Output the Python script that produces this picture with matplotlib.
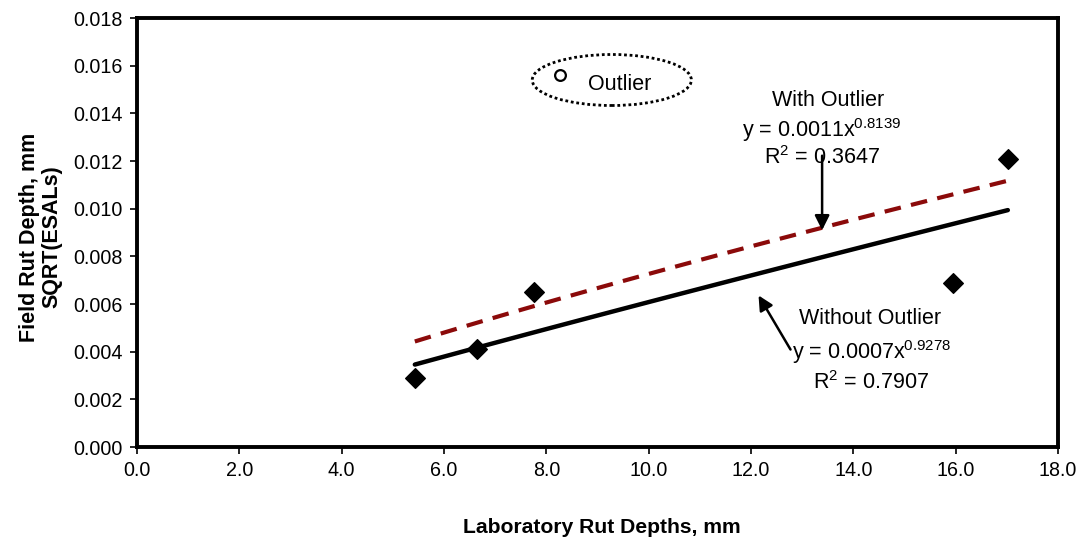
# Field vs laboratory rut depth with power trendlines (with / without outlier)
import numpy as np
import matplotlib.pyplot as plt
from matplotlib.patches import Ellipse

plt.rcParams["font.family"] = ["Liberation Sans", "DejaVu Sans"]
plt.rcParams["mathtext.fontset"] = "custom"
plt.rcParams["mathtext.rm"] = "Liberation Sans"
plt.rcParams["mathtext.it"] = "Liberation Sans"

# Data
lab_rut = [5.43, 6.64, 7.76, 15.95, 17.02]
field_rut = [0.0029, 0.0041, 0.0065, 0.0069, 0.0121]
outlier_x = [8.27]
outlier_y = [0.0156]

x_ticks = np.arange(0, 18.1, 2.0)
y_ticks = np.arange(0, 0.0181, 0.002)


# Power trendline y = a * x^b, fitted in log space like a spreadsheet does
def power_fit(x, y):
    b, log_a = np.polyfit(np.log(x), np.log(y), 1)
    return np.exp(log_a), b


a_wo, b_wo = power_fit(lab_rut, field_rut)
a_w, b_w = power_fit(lab_rut + outlier_x, field_rut + outlier_y)
x_fit = np.linspace(min(lab_rut), max(lab_rut), 50)

fig = plt.figure(figsize=(10.83, 5.4), dpi=100)
ax = fig.add_axes([0.1265, 0.1722, 0.8504, 0.7944])

ax.plot(x_fit, a_w * x_fit**b_w, color="#8b0a0a", lw=3, dashes=(4, 2.5))
ax.plot(x_fit, a_wo * x_fit**b_wo, color="black", lw=3.2, solid_capstyle="round")
ax.scatter(lab_rut, field_rut, marker="D", s=100, color="black", zorder=3)
ax.scatter(outlier_x, outlier_y, marker="o", s=60, facecolor="white",
           edgecolor="black", lw=1.6, zorder=3)

# Outlier label in a dotted ellipse
ax.add_patch(Ellipse((9.28, 0.0154), 3.11, 0.00214, fill=False, ls=(0, (1, 1)),
                     lw=2, ec="black"))
fs = 15.5
ax.text(9.44, 0.0152, "Outlier", ha="center", va="center", fontsize=fs)

ax.text(13.5, 0.01452, "With Outlier", ha="center", va="center", fontsize=fs)
ax.text(13.39, 0.0133, r"y = 0.0011x$^{\mathrm{0.8139}}$", ha="center", va="center",
        fontsize=fs)
ax.text(13.39, 0.01213, r"R$^{\mathrm{2}}$ = 0.3647", ha="center", va="center",
        fontsize=fs)
ax.annotate("", xy=(13.39, 0.00898), xytext=(13.39, 0.01234),
            arrowprops=dict(arrowstyle="-|>", color="black", lw=1.8,
                            mutation_scale=22))

ax.text(14.32, 0.00541, "Without Outlier", ha="center", va="center", fontsize=fs)
ax.text(14.35, 0.00399, r"y = 0.0007x$^{\mathrm{0.9278}}$", ha="center", va="center",
        fontsize=fs)
ax.text(14.35, 0.00269, r"R$^{\mathrm{2}}$ = 0.7907", ha="center", va="center",
        fontsize=fs)
ax.annotate("", xy=(12.12, 0.00646), xytext=(12.8, 0.00399),
            arrowprops=dict(arrowstyle="-|>", color="black", lw=1.8,
                            mutation_scale=22))

ax.set_xlim(0, 18)
ax.set_ylim(0, 0.018)
ax.set_xticks(x_ticks)
ax.set_xticklabels([f"{v:.1f}" for v in x_ticks])
ax.set_yticks(y_ticks)
ax.set_yticklabels([f"{v:.3f}" for v in y_ticks])
ax.tick_params(labelsize=14.2, length=5, width=1.2, pad=5)
for s in ax.spines.values():
    s.set_linewidth(2.8)

fig.text(0.556, 0.024, "Laboratory Rut Depths, mm", ha="center", va="center",
         fontsize=15.2, fontweight="bold")
fig.text(0.0375, 0.561, "Field Rut Depth, mm\nSQRT(ESALs)", ha="center", va="center",
         rotation=90, fontsize=15.5, fontweight="bold", linespacing=1.1)

fig.savefig("out.png", dpi=100)
